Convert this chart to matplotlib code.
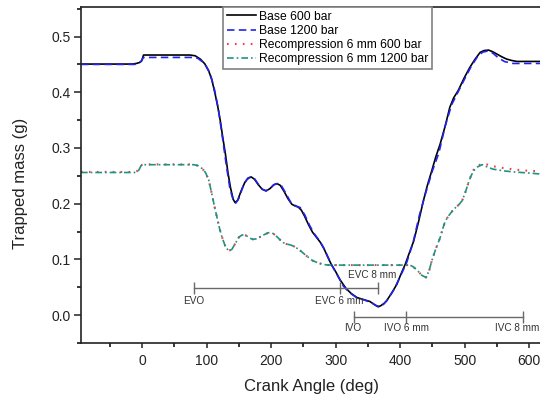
import matplotlib
matplotlib.use("Agg")
import matplotlib.pyplot as plt
from matplotlib.ticker import MultipleLocator

plt.rcParams['font.family'] = ['Liberation Sans', 'DejaVu Sans']

# ---------------- data ----------------
base600_angle = [-95, -15, -8, -4, -1, 2, 74, 82, 90, 97, 103, 108, 113, 117, 121, 125, 129,
                 133, 137, 141, 144, 148, 153, 159, 164, 169, 174, 180, 186, 192, 198, 204,
                 209, 214, 220, 226, 232, 237, 242, 247, 252, 258, 264, 270, 276, 282, 287,
                 293, 300, 307, 316, 324, 333, 343, 353, 360, 366, 370, 375, 379, 387, 395,
                 401, 408, 414, 421, 428, 436, 442, 449, 455, 462, 470, 477, 483, 490, 499,
                 508, 516, 524, 530, 537, 543, 550, 557, 565, 573, 581, 620]
base600_mass = [0.4506, 0.4506, 0.452, 0.4535, 0.456, 0.4668, 0.4668, 0.4655, 0.4596, 0.451,
                0.4386, 0.422, 0.397, 0.375, 0.349, 0.318, 0.289, 0.255, 0.228, 0.208, 0.202,
                0.206, 0.222, 0.238, 0.246, 0.248, 0.244, 0.234, 0.226, 0.223, 0.227, 0.234,
                0.236, 0.233, 0.222, 0.209, 0.199, 0.196, 0.194, 0.188, 0.177, 0.162, 0.149,
                0.140, 0.131, 0.119, 0.106, 0.0915, 0.078, 0.063, 0.048, 0.039, 0.0316, 0.028,
                0.0245, 0.019, 0.0149, 0.017, 0.021, 0.0257, 0.040, 0.0556, 0.073, 0.0916,
                0.111, 0.133, 0.165, 0.205, 0.232, 0.259, 0.283, 0.307, 0.340, 0.373, 0.390,
                0.403, 0.425, 0.4445, 0.459, 0.4715, 0.4748, 0.4757, 0.473, 0.4686, 0.464,
                0.4596, 0.457, 0.4553, 0.4553]

base1200_angle = [-95, -12, -6, -2, 2, 78, 86, 93, 100, 106, 112, 118, 124, 130, 136, 141,
                  145, 150, 156, 162, 168, 174, 180, 186, 192, 198, 204, 210, 216, 222, 230,
                  238, 245, 252, 260, 268, 276, 284, 293, 302, 312, 322, 333, 345, 356, 363,
                  368, 373, 380, 390, 400, 410, 420, 430, 440, 450, 460, 470, 480, 490, 500,
                  510, 520, 528, 536, 544, 552, 562, 575, 620]
base1200_mass = [0.4500, 0.4500, 0.4515, 0.4555, 0.4625, 0.4625, 0.461, 0.455, 0.445, 0.431,
                 0.405, 0.370, 0.322, 0.272, 0.227, 0.207, 0.201, 0.210, 0.230, 0.243, 0.248,
                 0.245, 0.235, 0.226, 0.223, 0.227, 0.234, 0.236, 0.232, 0.220, 0.203, 0.196,
                 0.193, 0.180, 0.160, 0.144, 0.132, 0.115, 0.0915, 0.073, 0.052, 0.040,
                 0.031, 0.027, 0.022, 0.017, 0.0155, 0.018, 0.027, 0.045, 0.069, 0.094, 0.130,
                 0.180, 0.221, 0.259, 0.291, 0.340, 0.378, 0.401, 0.424, 0.446, 0.464, 0.472,
                 0.474, 0.470, 0.462, 0.455, 0.4517, 0.4517]

recomp600_angle = [-95, -12, -8, -5, -2, 2, 80, 87, 93, 98, 103, 108, 112, 116, 120, 124, 129,
                   134, 139, 145, 150, 155, 161, 167, 172, 177, 184, 190, 196, 201, 207, 213,
                   219, 224, 230, 236, 242, 248, 253, 258, 264, 270, 276, 286, 297, 415, 420,
                   427, 433, 440, 445, 449, 455, 462, 466, 470, 475, 483, 490, 496, 501, 506,
                   510, 514, 520, 528, 536, 545, 560, 580, 600, 620]
recomp600_mass = [0.257, 0.257, 0.2585, 0.262, 0.269, 0.2705, 0.2705, 0.268, 0.263, 0.256,
                  0.243, 0.217, 0.195, 0.175, 0.155, 0.139, 0.123, 0.1154, 0.118, 0.130, 0.140,
                  0.144, 0.143, 0.138, 0.136, 0.137, 0.141, 0.145, 0.148, 0.148, 0.143, 0.136,
                  0.130, 0.1275, 0.126, 0.123, 0.1185, 0.113, 0.108, 0.1034, 0.098, 0.095,
                  0.0926, 0.090, 0.0898, 0.0898, 0.087, 0.080, 0.072, 0.0675, 0.080, 0.0975,
                  0.118, 0.139, 0.155, 0.169, 0.178, 0.190, 0.197, 0.205, 0.220, 0.238, 0.251,
                  0.261, 0.268, 0.272, 0.270, 0.267, 0.264, 0.261, 0.259, 0.258]

recomp1200_angle = [-95, -12, -8, -5, -2, 2, 80, 87, 93, 98, 103, 108, 112, 116, 120, 124, 129,
                    134, 139, 145, 150, 155, 161, 167, 172, 177, 184, 190, 196, 201, 207, 213,
                    219, 224, 230, 236, 242, 248, 253, 258, 264, 270, 276, 286, 297, 415, 420,
                    427, 433, 440, 445, 449, 455, 462, 466, 470, 475, 483, 490, 496, 501, 506,
                    510, 514, 520, 527, 535, 544, 560, 576, 600, 620]
recomp1200_mass = [0.256, 0.256, 0.2575, 0.261, 0.268, 0.270, 0.270, 0.268, 0.263, 0.256,
                   0.243, 0.217, 0.195, 0.175, 0.155, 0.139, 0.123, 0.1154, 0.118, 0.130,
                   0.140, 0.144, 0.143, 0.138, 0.136, 0.137, 0.141, 0.145, 0.148, 0.148,
                   0.143, 0.136, 0.130, 0.1275, 0.126, 0.123, 0.1185, 0.113, 0.108, 0.1034,
                   0.098, 0.095, 0.0926, 0.090, 0.0898, 0.0898, 0.087, 0.080, 0.072, 0.0675,
                   0.080, 0.0975, 0.118, 0.139, 0.155, 0.169, 0.178, 0.190, 0.197, 0.205,
                   0.220, 0.238, 0.250, 0.259, 0.266, 0.270, 0.266, 0.262, 0.259, 0.257,
                   0.255, 0.253]

series_labels = ["Base 600 bar", "Base 1200 bar",
                 "Recompression 6 mm 600 bar", "Recompression 6 mm 1200 bar"]

# valve-event markers
exh_level = 0.048
exh_angles = [80, 306, 366]
exh_text = ["EVO", "EVC 6 mm", "EVC 8 mm"]
exh_text_angle = [80, 305, 356]
exh_text_level = [0.026, 0.025, 0.072]

int_level = -0.003
int_angles = [328, 409, 590]
int_text = ["IVO", "IVO 6 mm", "IVC 8 mm"]
int_text_angle = [327, 410, 581]
int_text_level = [-0.023, -0.023, -0.023]

# ---------------- figure ----------------
W, H = 540, 400
fig = plt.figure(figsize=(W / 100, H / 100), dpi=100)
ax_l, ax_r, ax_t, ax_b = 81, 542, 7, 343
ax = fig.add_axes([ax_l / W, 1 - ax_b / H, (ax_r - ax_l) / W, (ax_b - ax_t) / H])

l1, = ax.plot(base600_angle, base600_mass, color="black", lw=1.2, label=series_labels[0])
l2, = ax.plot(base1200_angle, base1200_mass, color="#2222ee", lw=1.2, label=series_labels[1])
l2.set_dashes((4.5, 2.6))
l3, = ax.plot(recomp600_angle, recomp600_mass, color="#e8433f", lw=1.5, label=series_labels[2])
l3.set_dashes((0.8, 3.0))
l4, = ax.plot(recomp1200_angle, recomp1200_mass, color="#1e9283", lw=1.2, label=series_labels[3])
l4.set_dashes((4.0, 1.8, 1.0, 1.8))

gray = "#6a6a6a"
ax.plot([min(exh_angles), max(exh_angles)], [exh_level, exh_level], color=gray, lw=1.0)
ax.plot(exh_angles, [exh_level] * len(exh_angles), ls="none", marker="|", ms=8,
        mew=1.0, color=gray)
ax.plot([min(int_angles), max(int_angles)], [int_level, int_level], color=gray, lw=1.0)
ax.plot(int_angles, [int_level] * len(int_angles), ls="none", marker="|", ms=8,
        mew=1.0, color=gray)
for t, xa, ya in zip(exh_text + int_text, exh_text_angle + int_text_angle,
                     exh_text_level + int_text_level):
    ax.text(xa, ya, t, ha="center", va="center", fontsize=7.2, color="#333333")

ax.set_xlim(-95, 620)
ax.set_ylim(-0.05, 0.553)
ax.xaxis.set_major_locator(MultipleLocator(100))
ax.xaxis.set_minor_locator(MultipleLocator(50))
ax.yaxis.set_major_locator(MultipleLocator(0.1))
ax.yaxis.set_minor_locator(MultipleLocator(0.05))
ax.yaxis.set_major_formatter(matplotlib.ticker.FormatStrFormatter("%.1f"))

for s in ax.spines.values():
    s.set_linewidth(1.2)
    s.set_color("#222222")
ax.tick_params(axis="x", which="major", direction="out", length=3.6, width=1.1,
               labelsize=10, pad=4, colors="#222222")
ax.tick_params(axis="x", which="minor", direction="out", length=2.6, width=1.1)
ax.tick_params(axis="y", which="major", direction="out", length=5.0, width=1.1,
               labelsize=10, pad=2.5, colors="#222222")
ax.tick_params(axis="y", which="minor", direction="out", length=2.9, width=1.1)

ax.set_xlabel("Crank Angle (deg)", fontsize=12, color="#222222", labelpad=8)
ax.set_ylabel("Trapped mass (g)", fontsize=12, color="#222222")
ax.yaxis.set_label_coords(-0.115, 0.476)

leg = ax.legend(handles=[l1, l2, l3, l4], loc="upper left",
                bbox_to_anchor=((223 - ax_l) / (ax_r - ax_l), 1.0),
                fontsize=8.7, frameon=True, fancybox=False, framealpha=1,
                borderaxespad=0, borderpad=0.3, handlelength=2.4, handletextpad=0.25,
                labelspacing=0.18)
leg.get_frame().set_edgecolor("#808080")
leg.get_frame().set_linewidth(1.2)

fig.savefig("out.png", dpi=100)
